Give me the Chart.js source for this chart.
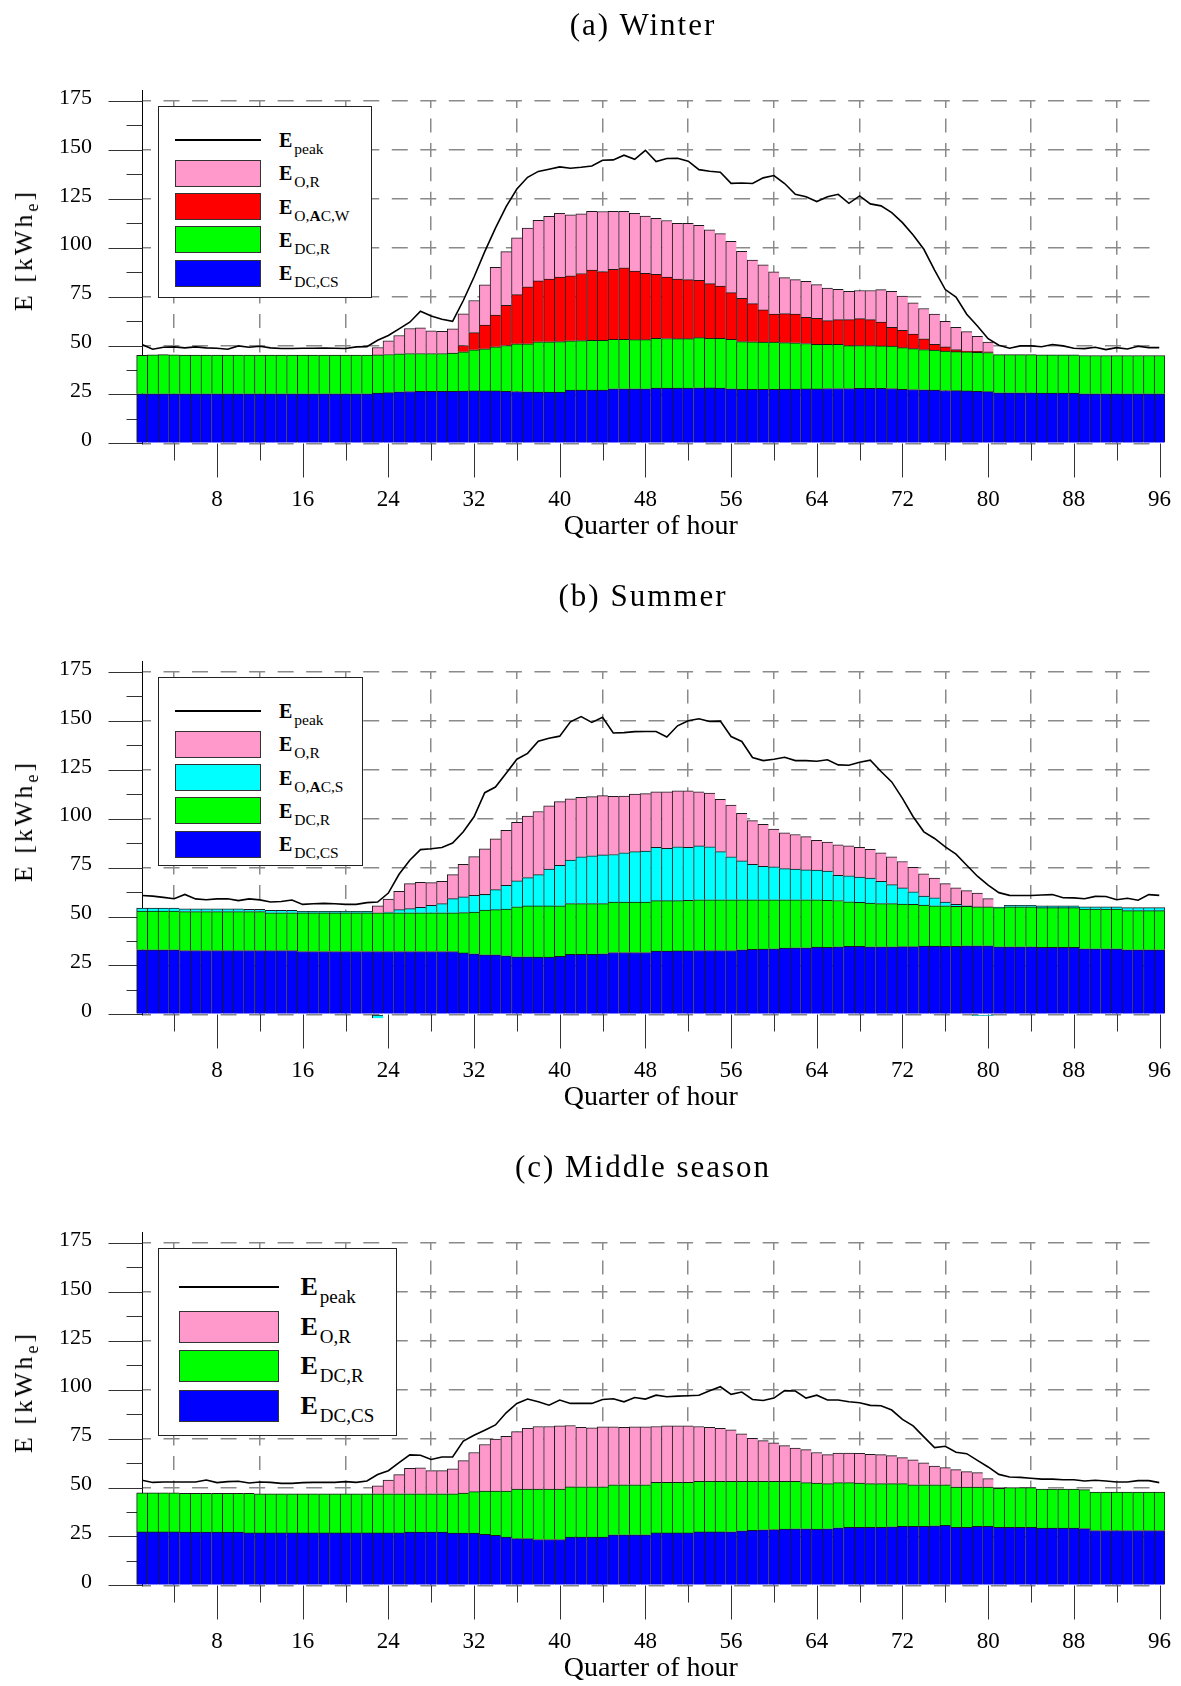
<!DOCTYPE html>
<html>
<head>
<meta charset="utf-8">
<title>Quarter-hourly energy profiles</title>
<script src="https://cdn.jsdelivr.net/npm/chart.js@4.4.1/dist/chart.umd.min.js"></script>
<style>
  html, body { margin: 0; padding: 0; background: #fff; }
  body { position: relative; width: 1181px; height: 1686px; overflow: hidden;
         font-family: 'Liberation Serif', 'Times New Roman', serif; color: #000; }
  .panel { position: absolute; left: 0; width: 1181px; height: 544px; }
  .panel canvas { position: absolute; left: 0; top: 0; }
  .ptitle { position: absolute; left: 643px; top: 23.5px; transform: translate(-50%, -50%);
            font-size: 31px; letter-spacing: 2px; white-space: nowrap; line-height: 1; }
  .ylab { position: absolute; left: 24px; top: 250px; transform: translate(-50%, -50%) rotate(-90deg);
          font-size: 26px; letter-spacing: 3px; white-space: nowrap; line-height: 1; }
  .ylab sub { font-size: 18px; vertical-align: -6px; line-height: 0; }
  .legend { position: absolute; left: 158px; top: 106px; background: #fff;
            border: 1px solid #222; box-sizing: border-box; }
  .legend .sw { position: absolute; box-sizing: border-box; }
  .legend .lab { position: absolute; white-space: nowrap; line-height: 1; }
  .legend .lab sub { font-weight: normal; line-height: 0; margin-left: 2px; }
</style>
</head>
<body>

<div class="panel" style="top:0px">
  <canvas id="chartWinter" width="1181" height="544"></canvas>
  <div class="ptitle">(a) Winter</div>
  <div class="ylab">E [kWh<sub>e</sub>]</div>
  <div class="legend" id="legendWinter"></div>
</div>

<div class="panel" style="top:571px">
  <canvas id="chartSummer" width="1181" height="544"></canvas>
  <div class="ptitle">(b) Summer</div>
  <div class="ylab">E [kWh<sub>e</sub>]</div>
  <div class="legend" id="legendSummer"></div>
</div>

<div class="panel" style="top:1142px">
  <canvas id="chartMiddle" width="1181" height="544"></canvas>
  <div class="ptitle">(c) Middle season</div>
  <div class="ylab">E [kWh<sub>e</sub>]</div>
  <div class="legend" id="legendMiddle"></div>
</div>

<script>
// ---- axes ----
const quarters = Array.from({ length: 96 }, (_, i) => i + 1);
const yTicks = [0, 25, 50, 75, 100, 125, 150, 175];
const yMinorTicks = [12.5, 37.5, 62.5, 87.5, 112.5, 137.5, 162.5];
const xTicks = [8, 16, 24, 32, 40, 48, 56, 64, 72, 80, 88, 96];
const xMinorTicks = [4, 12, 20, 28, 36, 44, 52, 60, 68, 76, 84, 92];

// ---- (a) winter, kWh_e per quarter of hour ----
const winterPeak = [
  50.5, 48.1, 49.1, 49.3, 48.8, 49.3, 48.8, 48.6, 48.1, 49.8, 49.1, 49.6,
  48.8, 48.5, 48.5, 48.6, 48.6, 48.7, 48.6, 48.5, 49.3, 49.4, 52.7, 55.1,
  58.5, 61.9, 67.5, 65.1, 63.4, 62.4, 73.0, 85.0, 98.0, 110.0, 121.0, 130.0,
  136.0, 139.0, 140.1, 141.3, 140.6, 141.1, 141.8, 144.7, 144.9, 147.3, 145.2, 149.8,
  144.0, 145.6, 145.7, 144.2, 139.9, 139.1, 138.6, 132.9, 133.1, 132.8, 135.7, 136.9,
  132.8, 127.3, 126.0, 123.6, 126.0, 127.3, 122.7, 126.5, 122.4, 121.4, 117.9, 112.8,
  106.5, 99.2, 88.5, 78.6, 74.8, 66.0, 60.0, 53.5, 50.1, 48.6, 49.8, 49.8,
  49.4, 50.5, 49.8, 48.6, 48.4, 49.1, 47.9, 48.9, 48.2, 49.6, 48.9, 48.9
];
const winterDcCs = [
  25.3, 25.3, 25.3, 25.3, 25.3, 25.3, 25.3, 25.3, 25.3, 25.3, 25.3, 25.3,
  25.3, 25.3, 25.3, 25.3, 25.3, 25.3, 25.3, 25.3, 25.3, 25.3, 25.7, 25.9,
  26.3, 26.5, 26.6, 26.6, 26.6, 26.6, 26.7, 26.8, 26.8, 26.8, 26.6, 26.5,
  26.3, 26.2, 26.2, 26.2, 27.2, 27.2, 27.2, 27.2, 27.9, 27.9, 27.9, 27.9,
  28.2, 28.2, 28.2, 28.2, 28.4, 28.3, 28.2, 27.9, 27.6, 27.6, 27.6, 27.6,
  27.7, 27.7, 27.8, 27.8, 28.0, 28.0, 28.0, 28.1, 28.1, 28.1, 28.0, 27.6,
  27.5, 27.4, 27.2, 27.0, 26.9, 26.8, 26.6, 26.4, 25.8, 25.8, 25.8, 25.8,
  25.7, 25.7, 25.7, 25.7, 25.3, 25.3, 25.3, 25.3, 25.3, 25.3, 25.3, 25.3
];
const winterDcR = [
  19.7, 19.9, 20.0, 19.9, 19.8, 19.8, 19.8, 19.8, 19.8, 19.8, 19.8, 19.8,
  19.8, 19.8, 19.8, 19.8, 19.8, 19.8, 19.8, 19.8, 19.8, 19.8, 19.5, 19.5,
  19.5, 19.4, 19.3, 19.3, 19.3, 19.5, 20.1, 21.0, 21.5, 22.5, 23.4, 24.4,
  24.6, 25.7, 25.7, 25.8, 25.2, 25.3, 25.4, 25.4, 25.3, 25.3, 25.1, 25.1,
  25.5, 25.4, 25.3, 25.3, 25.6, 25.4, 25.5, 25.3, 24.4, 24.3, 24.2, 24.2,
  23.8, 23.7, 23.2, 22.8, 22.6, 22.6, 21.9, 21.9, 21.8, 21.7, 21.7, 21.3,
  20.9, 20.5, 20.4, 20.2, 20.0, 19.9, 19.9, 20.0, 19.5, 19.5, 19.5, 19.5,
  19.5, 19.5, 19.5, 19.5, 19.6, 19.6, 19.6, 19.6, 19.6, 19.6, 19.6, 19.6
];
const winterAcW = [
  0, 0, 0, 0, 0, 0, 0, 0, 0, 0, 0, 0,
  0, 0, 0, 0, 0, 0, 0, 0, 0, 0, 0, 0,
  0, 0, 0, 0, 0, 0, 3.2, 8.8, 12.1, 16.2, 20.6, 25.1,
  29.1, 31.1, 32.1, 33.0, 33.2, 34.3, 35.9, 35.2, 35.8, 36.5, 35.1, 33.9,
  32.7, 31.4, 30.4, 30.2, 29.3, 27.9, 26.7, 23.8, 22.1, 19.5, 16.4, 14.3,
  14.8, 14.6, 13.4, 13.3, 12.1, 12.6, 13.3, 13.7, 13.3, 12.2, 9.6, 8.9,
  7.5, 5.5, 3.0, 2.1, 1.0, 0.5, 0.5, 0.4, 0, 0, 0, 0,
  0, 0, 0, 0, 0, 0, 0, 0, 0, 0, 0, 0
];
const winterOR = [
  0, 0, 0, 0, 0, 0, 0, 0, 0, 0, 0, 0,
  0, 0, 0, 0, 0, 0, 0, 0, 0, 0, 3.8, 7.0,
  9.3, 12.8, 13.1, 11.6, 11.4, 12.4, 16.2, 16.4, 20.6, 24.5, 27.4, 29.0,
  30.0, 31.0, 32.0, 32.6, 31.2, 30.5, 30.1, 30.7, 29.6, 28.9, 29.5, 29.3,
  28.6, 28.9, 28.6, 28.8, 28.2, 27.5, 26.8, 26.3, 24.1, 22.3, 23.0, 21.5,
  18.4, 17.7, 18.4, 17.2, 16.6, 15.5, 14.5, 14.4, 14.9, 16.6, 18.4, 17.5,
  15.9, 15.5, 15.4, 13.1, 11.4, 9.9, 7.7, 5.0, 0, 0, 0, 0,
  0, 0, 0, 0, 0, 0, 0, 0, 0, 0, 0, 0
];

// ---- (b) summer ----
const summerPeak = [
  60.7, 60.4, 59.8, 59.1, 61.3, 59.0, 58.6, 59.0, 59.1, 58.1, 59.0, 58.5,
  57.4, 57.7, 58.4, 56.2, 56.5, 56.7, 56.5, 56.2, 56.2, 57.1, 57.4, 62.0,
  71.6, 78.8, 84.2, 84.6, 85.3, 87.6, 93.3, 101.0, 113.3, 116.2, 123.2, 130.4,
  133.4, 139.6, 141.1, 142.2, 149.5, 152.2, 149.2, 151.8, 143.8, 144.0, 144.5, 144.6,
  144.6, 141.8, 147.5, 150.1, 151.1, 149.7, 149.9, 142.0, 139.5, 131.3, 129.7, 130.4,
  131.4, 129.7, 129.7, 129.4, 130.1, 127.5, 127.3, 128.9, 129.9, 124.1, 118.8, 110.4,
  101.0, 93.3, 89.9, 85.6, 81.9, 76.2, 70.6, 66.0, 62.2, 60.8, 60.7, 60.7,
  61.0, 61.2, 59.6, 59.5, 59.1, 60.3, 60.2, 58.6, 59.3, 58.3, 61.2, 60.8
];
const summerDcCs = [
  33.0, 33.0, 33.0, 33.0, 32.6, 32.6, 32.6, 32.6, 32.6, 32.6, 32.6, 32.6,
  32.6, 32.6, 32.6, 32.1, 32.1, 32.1, 32.1, 32.1, 32.1, 32.1, 32.1, 32.1,
  32.1, 32.1, 32.1, 32.1, 32.1, 32.1, 31.4, 30.9, 30.4, 30.4, 29.9, 29.4,
  29.4, 29.2, 29.2, 29.6, 30.6, 30.7, 30.7, 30.9, 31.6, 31.6, 31.6, 31.6,
  32.3, 32.3, 32.4, 32.4, 32.6, 32.6, 32.6, 32.6, 33.0, 33.2, 33.3, 33.5,
  33.8, 34.0, 34.0, 34.4, 34.2, 34.5, 34.7, 34.7, 34.5, 34.5, 34.5, 34.6,
  34.6, 34.9, 34.9, 34.7, 34.7, 35.0, 35.0, 35.0, 34.5, 34.5, 34.5, 34.5,
  34.2, 34.2, 34.2, 34.2, 33.5, 33.5, 33.5, 33.5, 33.0, 33.0, 33.0, 33.0
];
const summerDcR = [
  19.8, 19.8, 19.8, 19.8, 19.9, 19.9, 19.9, 19.9, 19.9, 19.9, 19.9, 19.9,
  19.3, 19.3, 19.3, 19.8, 19.8, 19.8, 19.8, 19.8, 19.8, 19.8, 19.8, 19.8,
  19.8, 19.8, 19.8, 19.8, 19.8, 19.8, 20.6, 21.4, 22.9, 23.1, 23.9, 25.6,
  26.0, 26.2, 26.2, 25.9, 26.0, 25.9, 25.9, 25.7, 25.8, 25.8, 25.8, 25.8,
  25.8, 25.8, 25.7, 25.9, 25.9, 25.9, 25.9, 25.9, 25.5, 25.3, 25.2, 25.0,
  24.7, 24.5, 24.5, 24.1, 24.1, 23.7, 22.8, 22.6, 22.4, 22.1, 22.1, 21.8,
  21.6, 21.0, 20.6, 20.8, 20.5, 20.2, 19.9, 19.9, 20.0, 20.5, 20.5, 20.5,
  20.3, 20.3, 20.3, 20.3, 20.3, 20.3, 20.3, 20.3, 20.0, 20.0, 20.0, 20.0
];
const summerAcS = [
  1.5, 1.5, 1.5, 1.5, 1.4, 1.4, 1.4, 1.4, 1.4, 1.4, 1.2, 1.2,
  1.2, 1.2, 1.2, 0.7, 0.7, 0.7, 0.7, 0.7, 0.7, 0.7, -2.0, 0.3,
  1.6, 2.1, 2.8, 3.8, 4.7, 7.2, 8.0, 8.5, 8.0, 10.2, 12.1, 13.2,
  14.5, 16.0, 18.8, 20.7, 22.2, 23.9, 24.4, 24.9, 24.3, 25.2, 25.8, 26.0,
  27.2, 26.7, 27.5, 27.0, 27.6, 27.1, 24.7, 22.0, 19.9, 18.2, 17.2, 16.9,
  16.0, 15.7, 15.3, 15.2, 14.9, 12.9, 13.3, 12.8, 12.7, 11.4, 9.7, 8.2,
  6.4, 4.6, 4.1, 1.9, 1.0, 0.3, -0.8, -0.8, 0.3, 0.7, 0.7, 0.7,
  0.9, 0.9, 0.9, 0.9, 1.1, 1.1, 1.1, 1.1, 1.5, 1.5, 1.5, 1.5
];
const summerOR = [
  0, 0, 0, 0, 0, 0, 0, 0, 0, 0, 0, 0,
  0, 0, 0, 0, 0, 0, 0, 0, 0, 0, 3.6, 6.7,
  9.4, 12.8, 12.8, 11.6, 11.4, 12.3, 16.7, 19.8, 23.3, 26.0, 28.1, 29.9,
  31.4, 32.3, 32.4, 32.5, 31.3, 30.4, 30.3, 30.3, 29.7, 29.0, 29.4, 29.4,
  28.5, 28.9, 28.7, 28.9, 27.7, 27.5, 26.7, 26.5, 24.3, 22.3, 21.4, 19.3,
  18.3, 17.7, 17.0, 15.3, 14.8, 15.6, 15.3, 15.2, 14.8, 14.6, 14.2, 13.5,
  12.6, 11.3, 10.0, 9.4, 8.4, 7.7, 7.1, 4.2, 0, 0, 0, 0,
  0, 0, 0, 0, 0, 0, 0, 0, 0, 0, 0, 0
];

// ---- (c) middle season ----
const middlePeak = [
  53.7, 52.6, 52.8, 52.8, 52.8, 52.8, 53.8, 52.5, 53.0, 53.2, 52.3, 52.8,
  52.6, 52.1, 52.1, 52.5, 52.6, 52.6, 52.6, 53.0, 52.6, 53.3, 56.6, 58.6,
  62.7, 66.7, 66.5, 64.3, 65.6, 65.6, 73.7, 76.7, 79.3, 82.0, 88.2, 93.0,
  95.2, 93.8, 92.1, 94.7, 93.0, 93.0, 93.0, 95.0, 95.4, 93.8, 96.0, 95.2,
  97.2, 96.4, 96.7, 96.9, 97.2, 99.5, 101.5, 97.6, 98.8, 95.0, 94.5, 95.7,
  99.5, 99.3, 95.7, 97.2, 94.7, 94.7, 93.8, 93.3, 92.0, 91.8, 89.6, 84.8,
  81.5, 75.9, 70.4, 71.1, 68.0, 67.3, 63.9, 60.5, 56.7, 55.4, 55.2, 54.7,
  54.3, 54.3, 54.0, 54.0, 53.3, 53.7, 53.3, 52.8, 52.8, 53.5, 53.5, 52.5
];
const middleDcCs = [
  27.3, 27.3, 27.3, 27.3, 27.2, 27.2, 27.2, 27.2, 27.2, 27.2, 26.8, 26.8,
  26.8, 26.8, 26.8, 26.8, 26.8, 26.8, 26.8, 26.8, 26.8, 26.8, 26.8, 26.8,
  26.8, 27.2, 27.2, 27.2, 27.2, 26.7, 26.7, 26.7, 26.1, 25.5, 24.6, 23.9,
  23.9, 23.4, 23.4, 23.4, 24.6, 24.6, 24.6, 24.6, 25.8, 25.8, 25.8, 25.8,
  26.8, 26.8, 26.8, 26.8, 27.3, 27.3, 27.3, 27.4, 27.9, 28.1, 28.4, 28.5,
  28.7, 28.9, 28.9, 28.7, 28.9, 29.4, 29.6, 29.6, 29.7, 29.7, 29.9, 30.1,
  30.1, 30.1, 30.4, 30.6, 29.7, 29.7, 30.1, 30.2, 29.7, 29.6, 29.6, 29.6,
  29.2, 29.2, 29.2, 29.2, 29.0, 28.0, 28.0, 28.0, 28.0, 28.0, 28.0, 28.0
];
const middleDcR = [
  20.0, 20.0, 20.0, 20.0, 19.8, 19.8, 19.8, 19.8, 19.8, 19.8, 20.2, 19.9,
  19.9, 19.9, 19.9, 19.9, 19.9, 19.9, 19.9, 19.9, 19.9, 19.9, 20.0, 20.0,
  20.0, 19.6, 19.6, 19.6, 19.6, 20.1, 20.5, 21.2, 22.1, 22.7, 23.6, 25.3,
  25.3, 25.8, 25.8, 25.8, 25.7, 25.8, 25.8, 25.8, 25.6, 25.6, 25.6, 25.6,
  25.8, 25.8, 25.8, 25.8, 25.9, 25.9, 25.9, 25.8, 25.3, 25.1, 24.8, 24.7,
  24.5, 24.3, 23.6, 23.6, 23.1, 23.1, 22.9, 22.7, 22.3, 22.3, 22.1, 21.9,
  21.3, 21.3, 21.0, 20.8, 20.5, 20.5, 20.1, 20.0, 19.9, 20.3, 20.3, 20.3,
  20.0, 20.0, 20.0, 20.0, 19.9, 19.7, 19.7, 19.7, 19.7, 19.7, 19.7, 19.7
];
const middleOR = [
  0, 0, 0, 0, 0, 0, 0, 0, 0, 0, 0, 0,
  0, 0, 0, 0, 0, 0, 0, 0, 0, 0, 4.0, 7.0,
  9.8, 13.0, 13.2, 11.8, 11.8, 12.8, 16.5, 20.0, 23.8, 26.5, 28.0, 29.4,
  31.1, 32.0, 32.0, 32.3, 31.4, 30.3, 30.1, 30.6, 29.6, 29.4, 29.6, 29.6,
  28.6, 28.9, 28.9, 28.9, 28.0, 27.6, 27.1, 26.3, 24.2, 22.0, 20.8, 19.6,
  18.2, 17.0, 16.9, 15.6, 14.8, 15.1, 15.1, 15.2, 15.0, 14.8, 14.3, 13.3,
  12.7, 11.2, 9.6, 8.8, 8.9, 7.9, 7.4, 4.3, 0, 0, 0, 0,
  0, 0, 0, 0, 0, 0, 0, 0, 0, 0, 0, 0
];

const colPink = '#ff99cc';
const colRed = '#ff0000';
const colCyan = '#00ffff';
const colGreen = '#00ff00';
const colBlue = '#0000ff';

Chart.defaults.font.family = "'Liberation Serif', 'Times New Roman', serif";
Chart.defaults.color = '#000';

// tick marks: long at labelled values, short in between
const axisTicks = {
  id: 'axisTicks',
  beforeDatasetsDraw(chart) {
    const { ctx, chartArea: area, scales: { x, y } } = chart;
    const left = Math.round(area.left) + 0.5;
    const base = Math.round(y.getPixelForValue(0)) + 0.5;
    ctx.save();
    ctx.lineWidth = 1;
    ctx.strokeStyle = '#333';
    ctx.beginPath();
    yTicks.forEach(v => {
      const p = Math.round(y.getPixelForValue(v)) + 0.5;
      ctx.moveTo(left - 34, p); ctx.lineTo(left, p);
    });
    yMinorTicks.forEach(v => {
      const p = Math.round(y.getPixelForValue(v)) + 0.5;
      ctx.moveTo(left - 16, p); ctx.lineTo(left, p);
    });
    xTicks.forEach(v => {
      const p = Math.round(x.getPixelForValue(v)) + 0.5;
      ctx.moveTo(p, base); ctx.lineTo(p, base + 34);
    });
    xMinorTicks.forEach(v => {
      const p = Math.round(x.getPixelForValue(v)) + 0.5;
      ctx.moveTo(p, base); ctx.lineTo(p, base + 17);
    });
    ctx.stroke();
    // the y axis line runs a little past the top
    ctx.strokeStyle = '#000';
    ctx.beginPath();
    ctx.moveTo(left, area.top - 11); ctx.lineTo(left, area.top);
    ctx.stroke();
    ctx.restore();
  }
};

function makeChart(canvasId, peak, layers) {
  const datasets = [{
    type: 'line',
    label: 'E peak',
    data: peak,
    borderColor: '#000',
    borderWidth: 1.6,
    pointRadius: 0,
    tension: 0,
    fill: false,
    order: 0,
    stack: 'peak'
  }];
  layers.forEach(l => datasets.push({
    type: 'bar',
    label: l.label,
    data: l.data,
    backgroundColor: l.color,
    borderColor: '#1a1a1a',
    borderWidth: c => ({ top: 1, left: 1, bottom: 0, right: c.dataIndex === 95 ? 1 : 0 }),
    borderSkipped: false,
    barPercentage: 1,
    categoryPercentage: 1,
    order: 1,
    stack: 'energy',
    clip: false
  }));

  return new Chart(document.getElementById(canvasId), {
    type: 'bar',
    data: { labels: quarters, datasets: datasets },
    options: {
      responsive: false,
      maintainAspectRatio: false,
      animation: false,
      devicePixelRatio: 1,
      layout: { padding: { left: 0, right: 21.5, top: 101, bottom: 0 } },
      plugins: { legend: { display: false }, tooltip: { enabled: false }, title: { display: false } },
      scales: {
        x: {
          type: 'linear',
          min: 1,
          max: 96,
          offset: false,
          afterBuildTicks: s => { s.ticks = xTicks.map(v => ({ value: v })); },
          afterFit: s => { s.height = 100.7; },
          // invisible tick marks only push the labels down; visible marks come from axisTicks
          grid: { color: '#8a8a8a', lineWidth: 1.5, drawTicks: true, tickLength: 43,
                  tickColor: 'rgba(0,0,0,0)' },
          border: { display: false, dash: [14, 10.45], dashOffset: 7 },
          ticks: { autoSkip: false, maxRotation: 0, padding: 0, color: '#000',
                   font: { size: 23 } },
          title: { display: true, text: 'Quarter of hour', color: '#000',
                   font: { size: 28 }, padding: { top: 0, bottom: 1 } }
        },
        y: {
          min: 0,
          max: 175,
          stacked: true,
          afterBuildTicks: s => { s.ticks = yTicks.map(v => ({ value: v })); },
          afterFit: s => { s.width = 142; },
          grid: { color: '#8a8a8a', lineWidth: 1.5, drawTicks: true, tickLength: 50,
                  tickColor: 'rgba(0,0,0,0)' },
          border: { display: true, color: '#000', width: 1, dash: [16, 12.53], dashOffset: 8 },
          ticks: { padding: 0, labelOffset: -3, color: '#000', font: { size: 22 } }
        }
      }
    },
    plugins: [axisTicks]
  });
}

function makeLegend(id, entries, L) {
  const box = document.getElementById(id);
  box.style.width = L.w + 'px';
  box.style.height = L.h + 'px';
  entries.forEach((e, i) => {
    const cy = L.first + i * L.pitch;
    const sw = document.createElement('div');
    sw.className = 'sw';
    if (e.line) {
      sw.style.cssText = `left:${L.swL}px;top:${cy - 1}px;width:${L.swW}px;height:2px;background:#000`;
    } else {
      sw.style.cssText = `left:${L.swL}px;top:${cy - L.rectH / 2}px;width:${L.swW}px;height:${L.rectH}px;` +
                         `background:${e.color};border:1px solid #333`;
    }
    box.appendChild(sw);
    const lab = document.createElement('div');
    lab.className = 'lab';
    lab.style.cssText = `left:${L.labL}px;top:${cy - L.fE * 0.5}px;font-size:${L.fE}px`;
    lab.innerHTML = `<b>E</b><sub style="font-size:${L.fSub}px;vertical-align:${L.subDrop}px">${e.sub}</sub>`;
    box.appendChild(lab);
  });
}

makeChart('chartWinter', winterPeak, [
  { label: 'E DC,CS', data: winterDcCs, color: colBlue },
  { label: 'E DC,R', data: winterDcR, color: colGreen },
  { label: 'E O,AC,W', data: winterAcW, color: colRed },
  { label: 'E O,R', data: winterOR, color: colPink }
]);
makeChart('chartSummer', summerPeak, [
  { label: 'E DC,CS', data: summerDcCs, color: colBlue },
  { label: 'E DC,R', data: summerDcR, color: colGreen },
  { label: 'E O,AC,S', data: summerAcS, color: colCyan },
  { label: 'E O,R', data: summerOR, color: colPink }
]);
makeChart('chartMiddle', middlePeak, [
  { label: 'E DC,CS', data: middleDcCs, color: colBlue },
  { label: 'E DC,R', data: middleDcR, color: colGreen },
  { label: 'E O,R', data: middleOR, color: colPink }
]);

const smallLegend = { w: 214, h: 192, swL: 16, swW: 86, first: 33, pitch: 33.3, rectH: 27,
                      labL: 120, fE: 20, fSub: 15.5, subDrop: -7 };
makeLegend('legendWinter', [
  { line: true, sub: 'peak' },
  { color: colPink, sub: 'O,R' },
  { color: colRed, sub: 'O,<b>A</b>C,W' },
  { color: colGreen, sub: 'DC,R' },
  { color: colBlue, sub: 'DC,CS' }
], smallLegend);
makeLegend('legendSummer', [
  { line: true, sub: 'peak' },
  { color: colPink, sub: 'O,R' },
  { color: colCyan, sub: 'O,<b>A</b>C,S' },
  { color: colGreen, sub: 'DC,R' },
  { color: colBlue, sub: 'DC,CS' }
], Object.assign({}, smallLegend, { w: 205, h: 189 }));
makeLegend('legendMiddle', [
  { line: true, sub: 'peak' },
  { color: colPink, sub: 'O,R' },
  { color: colGreen, sub: 'DC,R' },
  { color: colBlue, sub: 'DC,CS' }
], { w: 239, h: 188, swL: 20, swW: 100, first: 38.2, pitch: 39.5, rectH: 32,
     labL: 141.5, fE: 26, fSub: 19, subDrop: -8 });
</script>
</body>
</html>
